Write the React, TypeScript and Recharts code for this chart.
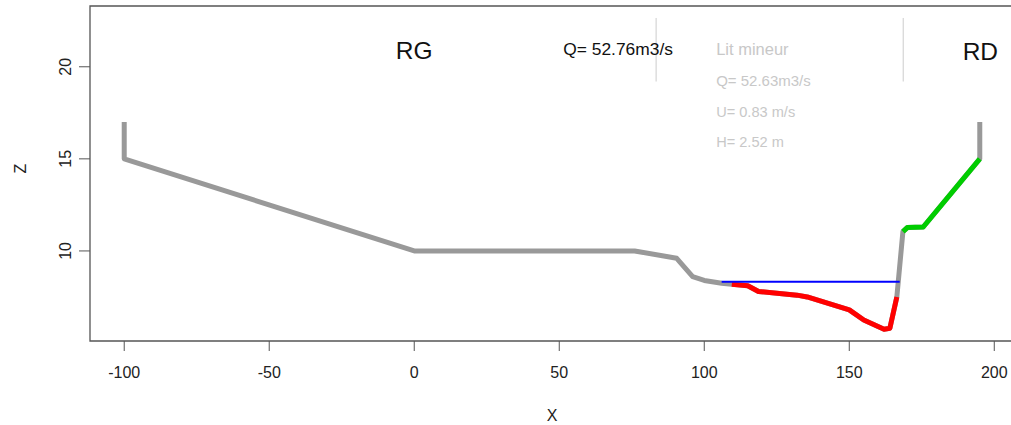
import React from 'react';
import { LineChart, Line, XAxis, YAxis, ReferenceArea, ReferenceDot, Label } from 'recharts';

// profil en travers (X, Z)
const profileX = [-100, -100, 0, 76, 90.5, 96, 100, 106, 109.5, 115, 118.7, 132, 135.5, 150, 155, 162, 164, 166.4, 168.5, 170, 175.5, 195, 195];
const profileZ = [17, 15, 10, 10, 9.6, 8.6, 8.4, 8.25, 8.19, 8.11, 7.8, 7.6, 7.5, 6.8, 6.25, 5.75, 5.8, 7.5, 11.05, 11.27, 11.3, 15, 17];

// segments colorés (indices dans le profil)
const litMineurFrom = 8;
const litMineurTo = 17;
const rdFrom = 18;
const rdTo = 21;

const waterX = [106, 167.4];
const waterLevel = 8.33;

const boundsX = [83.4, 168.6];
const boundsZ = [19.2, 22.65];

const xTicks = [-100, -50, 0, 50, 100, 150, 200];
const yTicks = [10, 15, 20];
const xDomain: [number, number] = [-111.8, 206.8];
const yDomain: [number, number] = [5.11, 23.3];

const labels = [
  { x: 0, z: 20.87, text: 'RG', size: 24.5, color: '#111', anchor: 'middle' },
  { x: 195.2, z: 20.85, text: 'RD', size: 24.5, color: '#111', anchor: 'middle' },
  { x: 70.3, z: 20.98, text: 'Q= 52.76m3/s', size: 17.4, color: '#111', anchor: 'middle' },
  { x: 104.1, z: 20.95, text: 'Lit mineur', size: 16.5, color: '#c8c8c8', anchor: 'start' },
  { x: 104.1, z: 19.25, text: 'Q= 52.63m3/s', size: 15, color: '#c8c8c8', anchor: 'start' },
  { x: 104.1, z: 17.55, text: 'U= 0.83 m/s', size: 14.6, color: '#c8c8c8', anchor: 'start' },
  { x: 104.1, z: 15.9, text: 'H= 2.52 m', size: 14.6, color: '#c8c8c8', anchor: 'start' },
];

const profile = profileX.map((x, i) => ({ x, z: profileZ[i] }));
const litMineur = profile.slice(litMineurFrom, litMineurTo + 1);
const rightBank = profile.slice(rdFrom, rdTo + 1);
const water = waterX.map((x) => ({ x, z: waterLevel }));
const bound1 = boundsZ.map((z) => ({ x: boundsX[0], z }));
const bound2 = boundsZ.map((z) => ({ x: boundsX[1], z }));

const FONT = '"Liberation Sans", Arial, sans-serif';

const YTick = (props: any) => {
  const { x, y, payload } = props;
  return (
    <text x={x - 6} y={y} transform={`rotate(-90 ${x - 6} ${y})`} textAnchor="middle" fontSize={16} fill="#222" fontFamily={FONT}>
      {payload.value}
    </text>
  );
};

export default function App() {
  return (
    <div style={{ width: 1011, height: 425, overflow: 'hidden', background: '#fff' }}>
      <style>{'body{margin:0}'}</style>
      <LineChart width={1020} height={425} margin={{ top: 6, right: 6, bottom: 0, left: 0 }}>
        <XAxis
          type="number"
          dataKey="x"
          domain={xDomain}
          ticks={xTicks}
          allowDataOverflow
          height={84}
          tickSize={10}
          tickMargin={16}
          axisLine={false}
          tickLine={{ stroke: '#555' }}
          tick={{ fontSize: 16, fill: '#222', fontFamily: FONT }}
        >
          <Label value="X" position="insideBottom" offset={4} fontSize={16} fill="#222" fontFamily={FONT} />
        </XAxis>
        <YAxis
          type="number"
          dataKey="z"
          domain={yDomain}
          ticks={yTicks}
          allowDataOverflow
          width={90}
          tickSize={11}
          axisLine={false}
          tickLine={{ stroke: '#555' }}
          tick={<YTick />}
        >
          <Label value="Z" angle={-90} position="insideLeft" offset={20} fontSize={16} fill="#222" fontFamily={FONT} />
        </YAxis>
        <ReferenceArea x1={xDomain[0]} x2={xDomain[1]} y1={yDomain[0]} y2={yDomain[1]} fill="none" stroke="#555" strokeWidth={1.3} ifOverflow="visible" />
        <Line data={bound1} dataKey="z" stroke="#cccccc" strokeWidth={1} dot={false} isAnimationActive={false} />
        <Line data={bound2} dataKey="z" stroke="#cccccc" strokeWidth={1} dot={false} isAnimationActive={false} />
        <Line data={profile} dataKey="z" stroke="#999999" strokeWidth={5} dot={false} strokeLinejoin="round" isAnimationActive={false} />
        <Line data={litMineur} dataKey="z" stroke="#ff0000" strokeWidth={5} dot={false} strokeLinejoin="round" isAnimationActive={false} />
        <Line data={rightBank} dataKey="z" stroke="#00cd00" strokeWidth={5} dot={false} strokeLinejoin="round" isAnimationActive={false} />
        <Line data={water} dataKey="z" stroke="#0000ff" strokeWidth={2} dot={false} isAnimationActive={false} />
        {labels.map((l) => (
          <ReferenceDot
            key={l.text}
            x={l.x}
            y={l.z}
            r={0}
            ifOverflow="visible"
            shape={(p: any) => (
              <text x={p.cx} y={p.cy} dy="0.35em" textAnchor={l.anchor as any} fontSize={l.size} fill={l.color} fontFamily={FONT}>
                {l.text}
              </text>
            )}
          />
        ))}
      </LineChart>
    </div>
  );
}
